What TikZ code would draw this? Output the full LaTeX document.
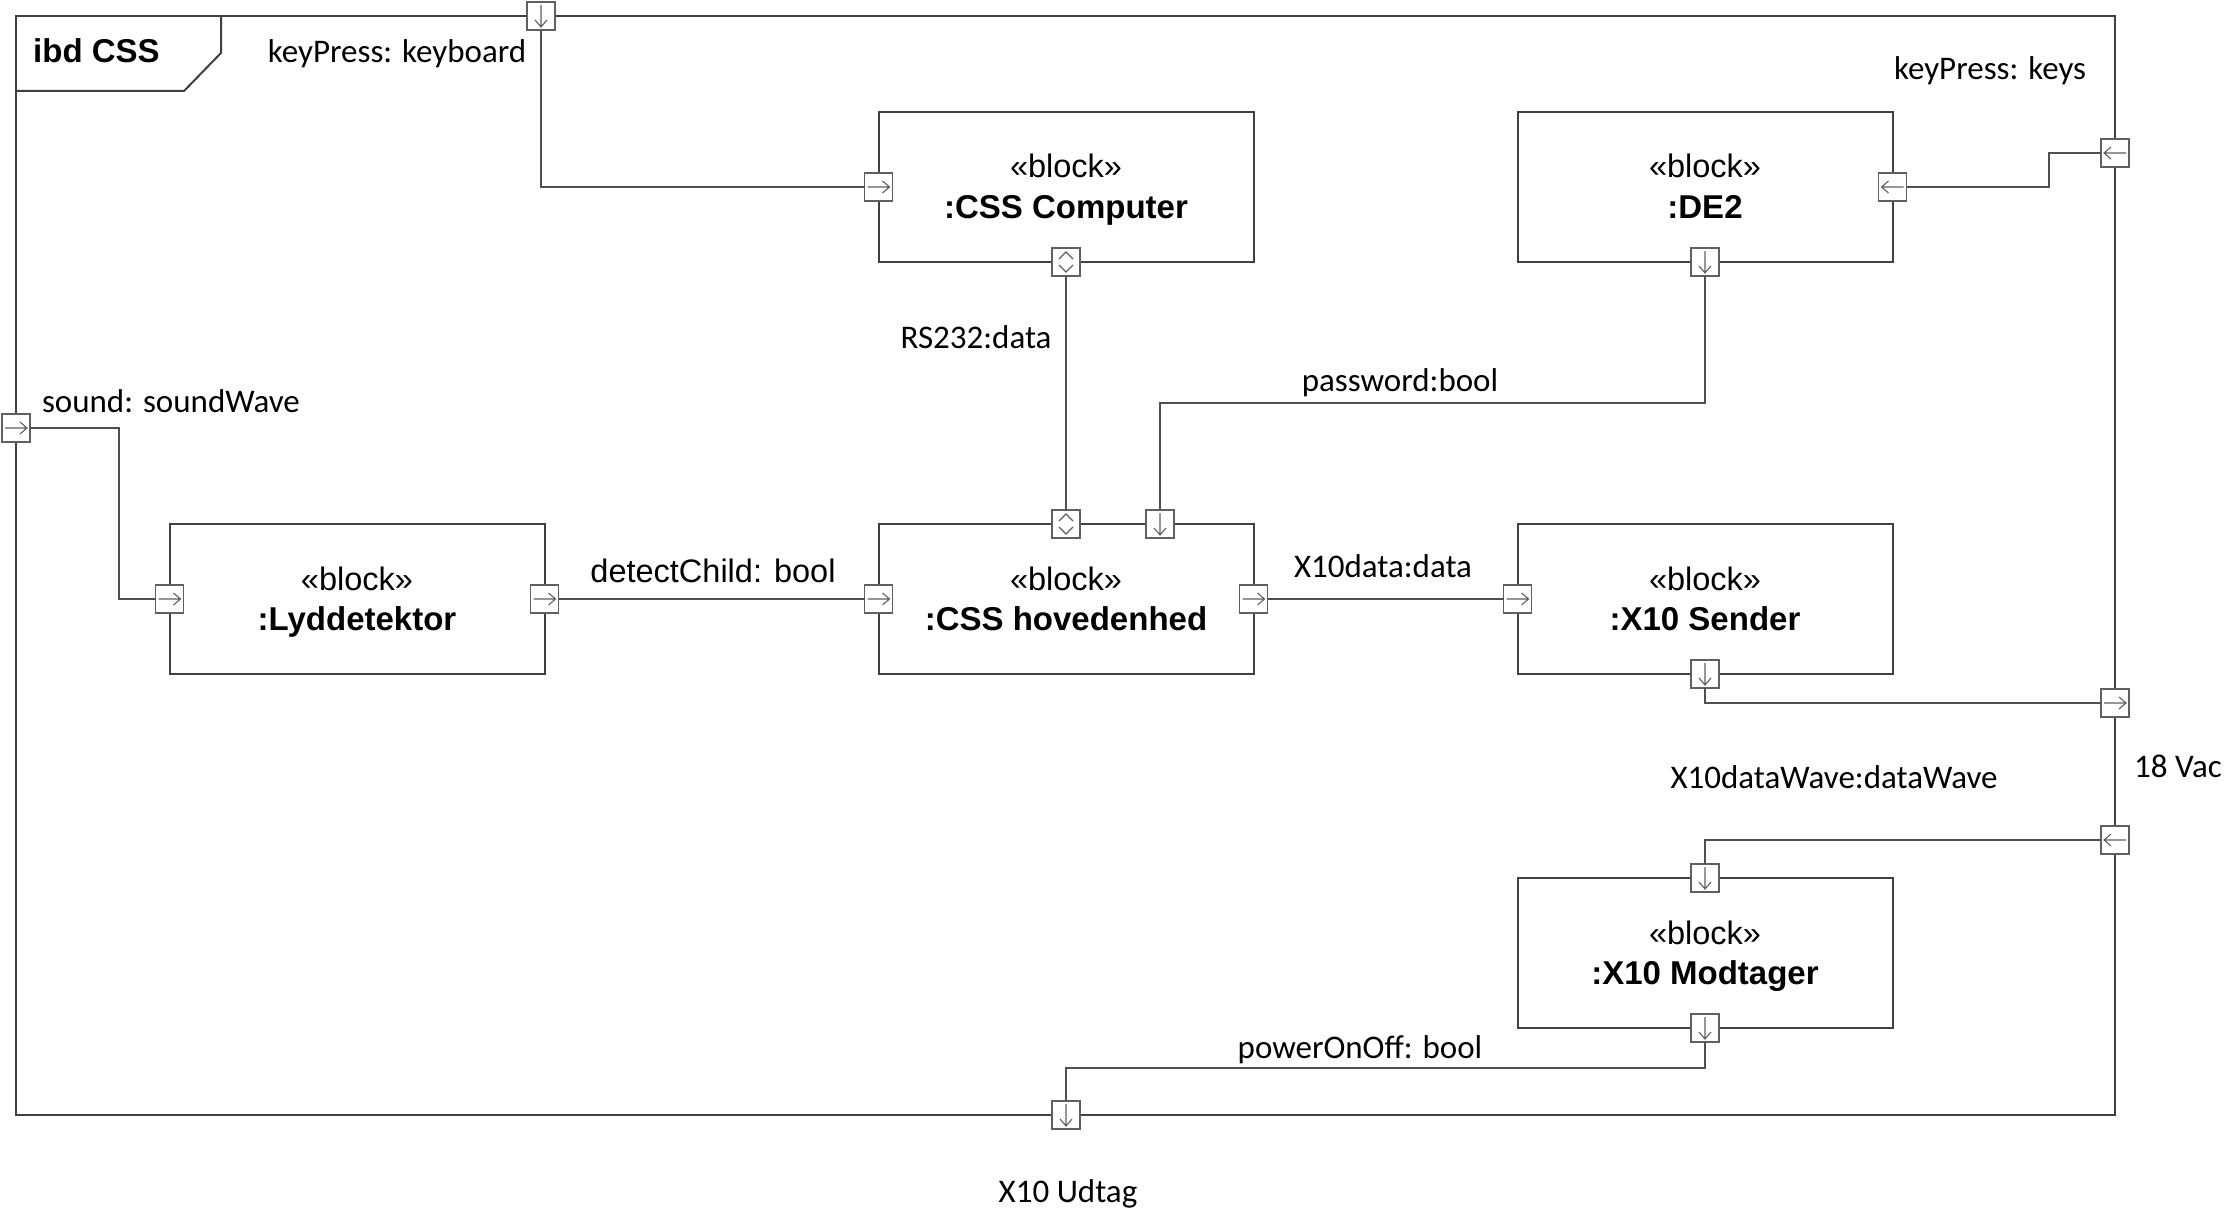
\documentclass[tikz,border=0pt]{standalone}
\usepackage{fontspec}
\newfontfamily\arialf{Liberation Sans}
\newfontfamily\calf{Carlito}
\definecolor{lc}{HTML}{404040}
\definecolor{pc}{HTML}{606060}
\definecolor{cc}{HTML}{505050}
\begin{document}
\begin{tikzpicture}[x=1pt,y=-1pt,
  blk/.style={draw=lc, line width=2pt, fill=white, minimum width=375pt, minimum height=150pt, inner sep=0pt, outer sep=0pt},
  prtbox/.style={draw=pc, line width=1.6pt, fill=white, minimum width=28pt, minimum height=28pt, inner sep=0pt, outer sep=0pt},
  parr/.style={pc, line width=1.1pt, shift={(path picture bounding box.center)}},
  prtR/.style={prtbox, path picture={\draw[parr] (-11pt,0pt) -- (11pt,0pt) (4pt,6pt) -- (11pt,0pt) -- (4pt,-6pt);}},
  prtL/.style={prtbox, path picture={\draw[parr] (11pt,0pt) -- (-11pt,0pt) (-4pt,6pt) -- (-11pt,0pt) -- (-4pt,-6pt);}},
  prtD/.style={prtbox, path picture={\draw[parr] (0pt,11pt) -- (0pt,-11pt) (6pt,-4pt) -- (0pt,-11pt) -- (-6pt,-4pt);}},
  prtUD/.style={prtbox, path picture={\draw[parr] (-7pt,3pt) -- (0pt,10pt) -- (7pt,3pt) (-7pt,-3pt) -- (0pt,-10pt) -- (7pt,-3pt);}},
  conn/.style={draw=cc, line width=2pt},
  lbl/.style={font=\calf\fontsize{33}{39}\selectfont, anchor=base, inner sep=0pt},
  stereo/.style={font=\arialf\fontsize{32.5}{38}\selectfont, anchor=base, inner sep=0pt},
  bname/.style={font=\arialf\bfseries\fontsize{33}{38}\selectfont, anchor=base, inner sep=0pt},
]
\useasboundingbox (0,0) rectangle (2238,1228);
\fill[white] (0,0) rectangle (2238,1228);

% frame
\node[draw=lc, line width=2pt, minimum width=2099pt, minimum height=1099pt, anchor=north west, inner sep=0pt, outer sep=0pt] (frame) at (16,16) {};
\draw[lc, line width=2pt] (16,91) -- (184,91) -- (221,53) -- (221,16);
\node[font=\arialf\bfseries\fontsize{33}{38}\selectfont, anchor=base west, inner sep=0pt] (title) at (33,63) {ibd CSS};

% blocks
\node[blk] (cssc) at (1066,187) {};
\node[stereo] (cssc-s) at (1066,178) {«block»};
\node[bname] (cssc-n) at (1066,218) {:CSS Computer};

\node[blk] (de2) at (1705,187) {};
\node[stereo] (de2-s) at (1705,178) {«block»};
\node[bname] (de2-n) at (1705,218) {:DE2};

\node[blk] (lyd) at (357,599) {};
\node[stereo] (lyd-s) at (357,590) {«block»};
\node[bname] (lyd-n) at (357,630) {:Lyddetektor};

\node[blk] (hov) at (1066,599) {};
\node[stereo] (hov-s) at (1066,590) {«block»};
\node[bname] (hov-n) at (1066,630) {:CSS hovedenhed};

\node[blk] (xs) at (1705,599) {};
\node[stereo] (xs-s) at (1705,590) {«block»};
\node[bname] (xs-n) at (1705,630) {:X10 Sender};

\node[blk] (xm) at (1705,953) {};
\node[stereo] (xm-s) at (1705,944) {«block»};
\node[bname] (xm-n) at (1705,984) {:X10 Modtager};

% ports
\node[prtD] (pt) at (541,16) {};
\node[prtR] (pccl) at (cssc.west) {};
\node[prtUD] (pccb) at (cssc.south) {};
\node[prtUD] (phv1) at (hov.north) {};
\node[prtD] (phv2) at (1160,524) {};
\node[prtL] (pde2r) at (de2.east) {};
\node[prtD] (pde2b) at (de2.south) {};
\node[prtL] (pfr1) at (2115,153) {};
\node[prtR] (pfl) at (16,428) {};
\node[prtR] (plyl) at (lyd.west) {};
\node[prtR] (plyr) at (lyd.east) {};
\node[prtR] (phvl) at (hov.west) {};
\node[prtR] (phvr) at (hov.east) {};
\node[prtR] (pxsl) at (xs.west) {};
\node[prtD] (pxsb) at (xs.south) {};
\node[prtR] (pfr2) at (2115,703) {};
\node[prtL] (pfr3) at (2115,840) {};
\node[prtD] (pxmt) at (xm.north) {};
\node[prtD] (pxmb) at (xm.south) {};
\node[prtD] (pfb) at (1066,1115) {};

% connectors
\coordinate (j1) at (1705,403);
\coordinate (j2) at (2049,153);
\coordinate (j3) at (119,428);
\coordinate (j4) at (1705,1068);
\draw[conn] (pt) |- (pccl);
\draw[conn] (pccb) -- (phv1);
\draw[conn] (pde2b) -- (j1) -| (phv2);
\draw[conn] (pde2r) -| (j2) -- (pfr1);
\draw[conn] (pfl) -- (j3) |- (plyl);
\draw[conn] (plyr) -- (phvl);
\draw[conn] (phvr) -- (pxsl);
\draw[conn] (pxsb) |- (pfr2);
\draw[conn] (pfr3) -| (pxmt);
\draw[conn] (pxmb) -- (j4) -| (pfb);

% labels
\node[lbl] (l1) at (397,63) {keyPress: keyboard};
\node[lbl] (l2) at (1990,80) {keyPress: keys};
\node[lbl] (l3) at (976,348) {RS232:data};
\node[lbl] (l4) at (1400,391) {password:bool};
\node[lbl] (l5) at (171,412) {sound: soundWave};
\node[stereo] (l6) at (713,582) {detectChild: bool};
\node[lbl] (l7) at (1383,577) {X10data:data};
\node[lbl] (l8) at (1834,788) {X10dataWave:dataWave};
\node[lbl] (l9) at (2178,777) {18 Vac};
\node[lbl] (l10) at (1360,1058) {powerOnOff: bool};
\node[lbl] (l11) at (1068,1202) {X10 Udtag};
\end{tikzpicture}
\end{document}
